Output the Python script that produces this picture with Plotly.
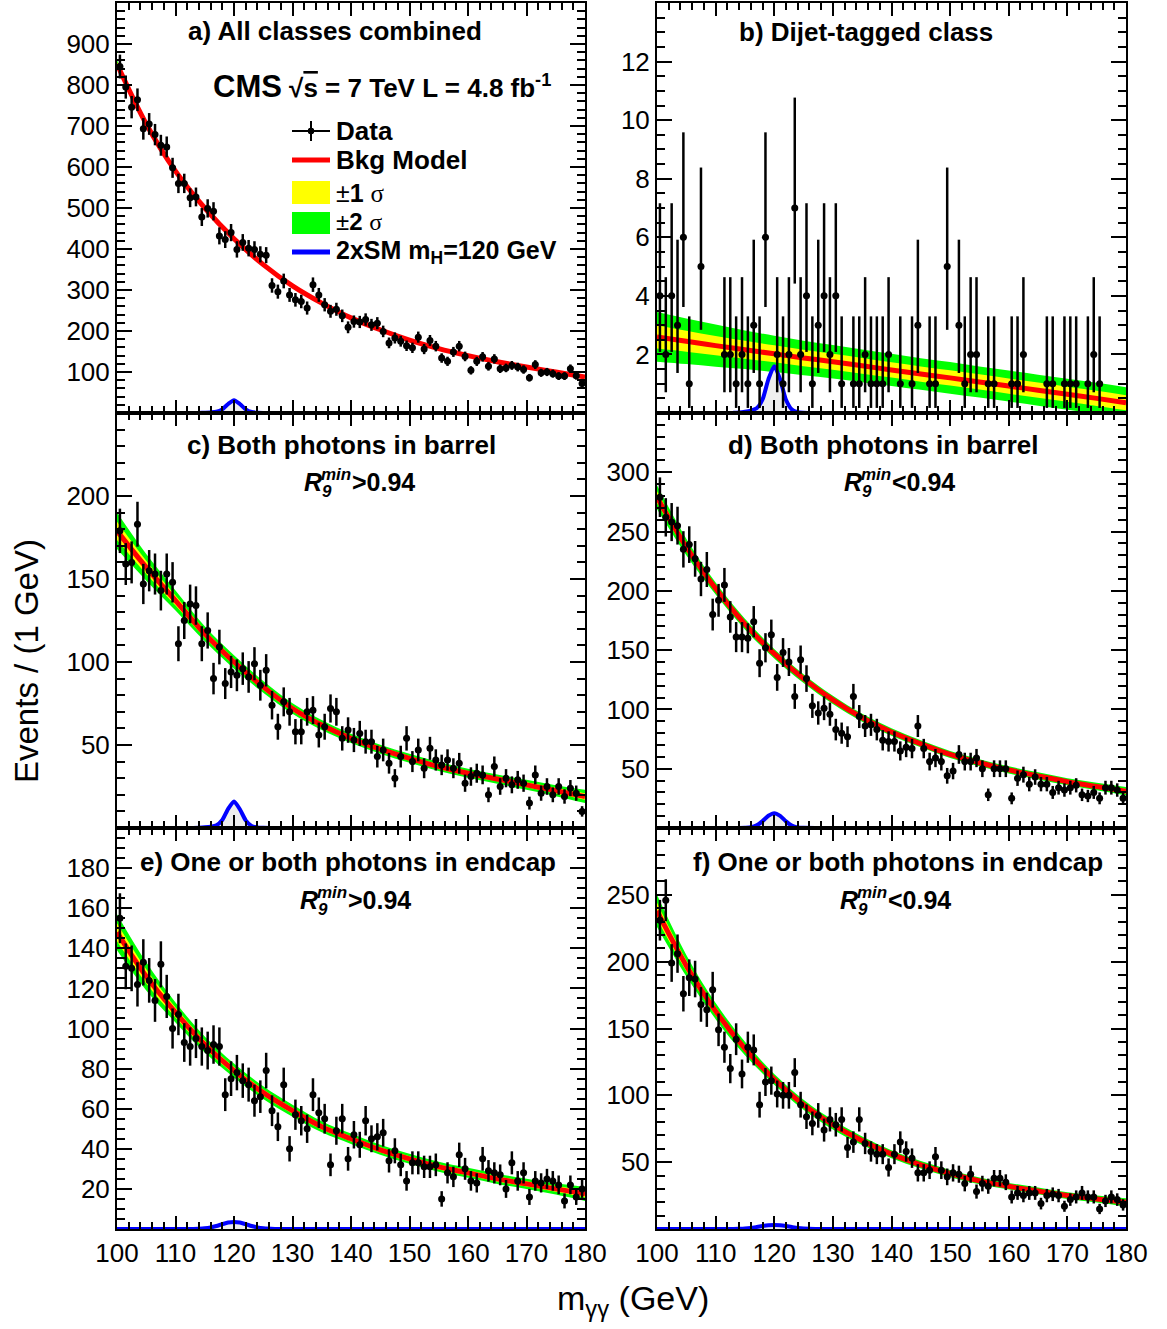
import numpy as np
import plotly.graph_objects as go

W, H = 1167, 1329
FONT = "Liberation Sans, Arial, Helvetica, sans-serif"

# ---------------- data ----------------
bin_centers = np.arange(100.5, 180.0, 1.0)
model_mass = [100, 105, 110, 115, 120, 125, 130, 135, 140, 145, 150, 155, 160, 165, 170, 175, 180]
signal_mass = [100, 113, 114, 115, 116, 117, 118, 119, 120, 121, 122, 123, 124, 125, 127, 180]

counts_a = [845, 795, 746, 764, 693, 705, 679, 653, 649, 598,
            560, 560, 525, 527, 478, 499, 492, 432, 423, 440,
            399, 416, 402, 399, 387, 385, 311, 296, 322, 288,
            276, 272, 256, 313, 288, 264, 248, 253, 237, 209,
            223, 222, 228, 215, 219, 199, 171, 183, 175, 164,
            159, 185, 156, 177, 163, 134, 126, 149, 163, 138,
            104, 126, 137, 114, 132, 108, 110, 116, 112, 106,
            86, 118, 98, 100, 96, 90, 90, 108, 91, 72]
counts_b = [4, 2, 4, 3, 6, 1, 0, 5, 0, 0,
            0, 2, 2, 1, 2, 1, 3, 1, 6, 0,
            2, 1, 2, 7, 2, 4, 1, 3, 4, 2,
            4, 1, 0, 1, 1, 2, 1, 1, 1, 2,
            0, 1, 0, 1, 3, 0, 1, 1, 0, 5,
            0, 3, 1, 2, 2, 0, 1, 1, 0, 0,
            1, 1, 2, 0, 0, 0, 1, 1, 0, 1,
            1, 1, 0, 1, 2, 1, 0, 0, 0, 0]
counts_c = [179, 159, 160, 183, 147, 155, 153, 143, 153, 148,
            111, 125, 135, 134, 111, 119, 90, 109, 87, 94,
            92, 96, 91, 99, 86, 95, 74, 61, 76, 70,
            58, 58, 70, 71, 56, 61, 72, 70, 54, 59,
            53, 57, 52, 52, 43, 47, 39, 30, 43, 54,
            40, 47, 36, 48, 41, 38, 41, 36, 39, 27,
            31, 33, 32, 20, 37, 25, 30, 26, 29, 27,
            15, 32, 21, 25, 20, 25, 19, 24, 21, 10]
counts_d = [279, 262, 258, 255, 235, 239, 227, 210, 218, 180,
            192, 205, 178, 161, 161, 160, 174, 139, 152, 163,
            127, 148, 140, 111, 142, 126, 103, 97, 101, 96,
            83, 80, 77, 111, 94, 86, 87, 83, 74, 73,
            73, 65, 68, 67, 86, 67, 56, 59, 56, 44,
            48, 62, 56, 56, 59, 50, 28, 50, 50, 50,
            25, 42, 45, 37, 43, 37, 37, 30, 34, 32,
            34, 36, 28, 27, 30, 25, 34, 34, 32, 25]
counts_e = [155, 131, 130, 122, 133, 124, 114, 132, 116, 100,
            107, 93, 91, 95, 91, 89, 92, 91, 67, 75,
            78, 74, 72, 64, 66, 79, 59, 51, 72, 40,
            57, 54, 50, 67, 58, 55, 32, 49, 55, 35,
            47, 42, 54, 45, 46, 48, 34, 39, 32, 24,
            33, 33, 31, 31, 32, 15, 28, 26, 37, 30,
            24, 23, 35, 29, 28, 27, 20, 33, 24, 28,
            16, 24, 23, 25, 24, 22, 14, 22, 16, 20]
counts_f = [231, 246, 199, 206, 176, 188, 187, 168, 164, 179,
            149, 136, 120, 142, 116, 136, 134, 93, 110, 111,
            101, 100, 100, 117, 93, 84, 79, 85, 74, 82,
            78, 82, 61, 65, 82, 64, 58, 56, 56, 46,
            56, 65, 58, 53, 42, 42, 44, 54, 44, 39,
            42, 41, 34, 41, 28, 34, 32, 38, 38, 35,
            24, 27, 25, 27, 27, 19, 25, 26, 25, 17,
            22, 24, 27, 24, 24, 15, 21, 24, 22, 18]

# background model (sampled every 5 GeV)
bkg_a = [851, 705, 590, 500, 425, 362, 310, 268, 232, 203, 178, 157, 140, 125, 112, 100, 88]
bkg_b = [2.6, 2.45, 2.3, 2.16, 2.02, 1.88, 1.75, 1.61, 1.47, 1.33, 1.2, 1.06, 0.92, 0.78, 0.64, 0.5, 0.35]
bkg_c = [179, 157, 137, 117, 100, 85, 72, 62, 54, 47.5, 42, 37, 33, 29.5, 26, 22.5, 19]
bkg_d = [279, 237, 202, 172, 147, 126, 108, 93, 81, 71, 62, 55, 49, 44, 39, 35, 31]
bkg_e = [148, 126, 108, 92, 79, 68, 59, 51, 45, 39.5, 35, 31, 28, 25, 22.5, 20, 17.5]
bkg_f = [238, 197, 163, 135, 112, 93, 78, 66, 56, 48, 41.5, 36, 32, 28.5, 25, 22.5, 20]

# +-1 sigma and +-2 sigma half widths
sig1_a = [5, 3, 2.5, 2, 2, 2, 1.5, 1.5, 1.5, 1.5, 1.5, 1.5, 1.5, 1.5, 1.5, 1.5, 2]
sig2_a = [10, 6, 5, 4, 4, 4, 3, 3, 3, 3, 3, 3, 3, 3, 3, 3, 4]
sig1_b = [0.40, 0.36, 0.33, 0.31, 0.29, 0.28, 0.27, 0.27, 0.26, 0.26, 0.26, 0.26, 0.26, 0.26, 0.26, 0.26, 0.26]
sig2_b = [0.85, 0.78, 0.72, 0.66, 0.62, 0.59, 0.57, 0.56, 0.55, 0.54, 0.54, 0.53, 0.53, 0.53, 0.53, 0.53, 0.53]
sig1_c = [5.5, 4, 3, 2.3, 2, 1.8, 1.6, 1.5, 1.4, 1.4, 1.4, 1.4, 1.4, 1.4, 1.5, 1.7, 2]
sig2_c = [11, 8, 6, 4.5, 4, 3.5, 3.2, 3, 2.8, 2.7, 2.7, 2.7, 2.7, 2.8, 3, 3.3, 4]
sig1_d = [5, 3.5, 2.5, 2.3, 2, 1.9, 1.8, 1.7, 1.6, 1.5, 1.5, 1.5, 1.5, 1.5, 1.5, 1.6, 1.8]
sig2_d = [10, 7, 5, 4.5, 4, 3.7, 3.5, 3.3, 3.2, 3, 3, 3, 3, 3, 3, 3.2, 3.5]
sig1_e = [4.5, 3.5, 2.5, 2, 1.8, 1.6, 1.5, 1.4, 1.3, 1.3, 1.3, 1.3, 1.3, 1.3, 1.3, 1.4, 1.8]
sig2_e = [9, 7, 5, 4, 3.5, 3.2, 3, 2.8, 2.6, 2.5, 2.5, 2.5, 2.5, 2.5, 2.6, 2.8, 3.5]
sig1_f = [6, 4, 3, 2.5, 2, 1.9, 1.8, 1.6, 1.5, 1.4, 1.4, 1.3, 1.3, 1.3, 1.3, 1.3, 1.5]
sig2_f = [12, 8, 6, 5, 4, 3.7, 3.5, 3.2, 3, 2.8, 2.7, 2.6, 2.5, 2.5, 2.5, 2.6, 3]

# 2xSM signal, mH = 120 GeV
signal_a = [0, 0.1, 0.3, 0.8, 1.5, 3, 9, 22, 31, 22, 9, 2.5, 0.6, 0.2, 0, 0]
signal_b = [0, 0.005, 0.015, 0.04, 0.08, 0.16, 0.46, 1.15, 1.6, 1.15, 0.45, 0.12, 0.03, 0.01, 0, 0]
signal_c = [0, 0.05, 0.15, 0.4, 0.8, 1.6, 4.8, 11.5, 16, 11.3, 4.6, 1.2, 0.3, 0.1, 0, 0]
signal_d = [0, 0.05, 0.1, 0.25, 0.6, 2.2, 5.8, 10.3, 12.5, 10.2, 5.6, 2, 0.5, 0.12, 0, 0]
signal_e = [0, 0.05, 0.12, 0.33, 0.77, 1.5, 2.4, 3.2, 3.5, 3.2, 2.4, 1.5, 0.77, 0.33, 0.04, 0]
signal_f = [0, 0.06, 0.17, 0.4, 0.84, 1.5, 2.2, 2.76, 3.0, 2.76, 2.2, 1.5, 0.84, 0.4, 0.06, 0]

# Garwood 68% Poisson intervals (indexed by count) for the dijet class
garwood_down = [0, 0.827, 1.292, 1.633, 1.914, 2.160, 2.380, 2.581]
garwood_up = [1.841, 2.300, 2.638, 2.918, 3.163, 3.382, 3.584, 3.770]

x_ticks = [100, 110, 120, 130, 140, 150, 160, 170, 180]
yticks_a = [100, 200, 300, 400, 500, 600, 700, 800, 900]
yticks_b = [2, 4, 6, 8, 10, 12]
yticks_c = [50, 100, 150, 200]
yticks_d = [50, 100, 150, 200, 250, 300]
yticks_e = [20, 40, 60, 80, 100, 120, 140, 160, 180]
yticks_f = [50, 100, 150, 200, 250]

# ---------------- geometry helpers ----------------
def px(xp):
    return xp / W

def py(yp):
    return 1 - yp / H

LEFT = (117, 585)
RIGHT = (657, 1126)
ROWS = [(3, 413), (413, 828), (828, 1229)]

panels = [
    dict(key='a', col=LEFT, row=ROWS[0], counts=counts_a, bkg=bkg_a, s1=sig1_a, s2=sig2_a, sig=signal_a,
         yr=[0, 1000], yt=yticks_a, ymin=20),
    dict(key='b', col=RIGHT, row=ROWS[0], counts=counts_b, bkg=bkg_b, s1=sig1_b, s2=sig2_b, sig=signal_b,
         yr=[0, 14], yt=yticks_b, ymin=0.5),
    dict(key='c', col=LEFT, row=ROWS[1], counts=counts_c, bkg=bkg_c, s1=sig1_c, s2=sig2_c, sig=signal_c,
         yr=[0, 250], yt=yticks_c, ymin=10),
    dict(key='d', col=RIGHT, row=ROWS[1], counts=counts_d, bkg=bkg_d, s1=sig1_d, s2=sig2_d, sig=signal_d,
         yr=[0, 350], yt=yticks_d, ymin=10),
    dict(key='e', col=LEFT, row=ROWS[2], counts=counts_e, bkg=bkg_e, s1=sig1_e, s2=sig2_e, sig=signal_e,
         yr=[0, 200], yt=yticks_e, ymin=5),
    dict(key='f', col=RIGHT, row=ROWS[2], counts=counts_f, bkg=bkg_f, s1=sig1_f, s2=sig2_f, sig=signal_f,
         yr=[0, 300], yt=yticks_f, ymin=10),
]

fig = go.Figure()
layout = dict(width=W, height=H, margin=dict(l=0, r=0, t=0, b=0, autoexpand=False),
              paper_bgcolor='white', plot_bgcolor='white', showlegend=False,
              font=dict(family=FONT, color='black'))

for k, p in enumerate(panels, start=1):
    sfx = '' if k == 1 else str(k)
    xa, ya = 'x' + sfx, 'y' + sfx
    bkg = np.array(p['bkg'], float)
    s1 = np.array(p['s1'], float)
    s2 = np.array(p['s2'], float)

    for lo, hi, col in [(bkg - s2, bkg + s2, '#00ff00'), (bkg - s1, bkg + s1, '#ffff00')]:
        fig.add_trace(go.Scatter(x=model_mass, y=lo, xaxis=xa, yaxis=ya, mode='lines',
                                 line=dict(width=0, shape='spline', color=col), hoverinfo='skip'))
        fig.add_trace(go.Scatter(x=model_mass, y=hi, xaxis=xa, yaxis=ya, mode='lines', fill='tonexty',
                                 fillcolor=col, line=dict(width=0, shape='spline', color=col),
                                 hoverinfo='skip'))
    fig.add_trace(go.Scatter(x=model_mass, y=bkg, xaxis=xa, yaxis=ya, mode='lines',
                             line=dict(width=5, shape='spline', color='#ff0000')))
    fig.add_trace(go.Scatter(x=signal_mass, y=p['sig'], xaxis=xa, yaxis=ya, mode='lines', fill='tozeroy',
                             fillcolor='rgb(238,238,238)',
                             line=dict(width=4, shape='spline', smoothing=0.6, color='#0000ff')))

    cnt = np.array(p['counts'])
    mask = cnt > 0
    xs = bin_centers[mask]
    ys = cnt[mask]
    if p['key'] == 'b':
        e_up = [garwood_up[n] for n in ys]
        e_dn = [garwood_down[n] for n in ys]
    else:
        e_up = np.sqrt(ys)
        e_dn = np.sqrt(ys)
    fig.add_trace(go.Scatter(x=xs, y=ys, xaxis=xa, yaxis=ya, mode='markers',
                             marker=dict(color='black', size=7),
                             error_y=dict(type='data', array=e_up, arrayminus=e_dn, symmetric=False,
                                          color='black', thickness=2.5, width=0),
                             error_x=dict(type='constant', value=0.5, color='black', thickness=2.5, width=0)))

    bottom = p['row'] is ROWS[2]
    common = dict(showline=True, linecolor='black', linewidth=2, mirror='allticks', ticks='inside',
                  tickcolor='black', tickwidth=2, showgrid=False, zeroline=False, automargin=False,
                  tickfont=dict(size=26, family=FONT, color='black'))
    layout['xaxis' + sfx] = dict(domain=[px(p['col'][0]), px(p['col'][1])], range=[100, 180],
                                 anchor=ya, tickmode='array', tickvals=x_ticks, ticklen=13,
                                 showticklabels=bottom,
                                 minor=dict(ticks='inside', tickmode='linear', tick0=100, dtick=2,
                                            ticklen=7, tickwidth=1.5, tickcolor='black'),
                                 **common)
    layout['yaxis' + sfx] = dict(domain=[py(p['row'][1]), py(p['row'][0])], range=p['yr'],
                                 anchor=xa, tickmode='array', tickvals=p['yt'], ticklen=15,
                                 minor=dict(ticks='inside', tickmode='linear', tick0=0, dtick=p['ymin'],
                                            ticklen=8, tickwidth=1.5, tickcolor='black'),
                                 **common)

fig.update_layout(**layout)

# ---------------- text ----------------
ann = []
SERIF = "Liberation Serif, Times New Roman, serif"

def text(xp, yp, s, size, xanchor='center', yanchor='middle', angle=0):
    ann.append(dict(x=px(xp), y=py(yp), xref='paper', yref='paper', text=s, showarrow=False,
                    xanchor=xanchor, yanchor=yanchor, textangle=angle,
                    font=dict(size=size, family=FONT, color='black')))

text(335, 31, '<b>a) All classes combined</b>', 26)
text(866, 32, '<b>b) Dijet-tagged class</b>', 26)
text(341, 445, '<b>c) Both photons in barrel</b>', 26)
text(883, 445, '<b>d) Both photons in barrel</b>', 26)
text(348, 862, '<b>e) One or both photons in endcap</b>', 26)
text(898, 862, '<b>f) One or both photons in endcap</b>', 26)

for (rx, ry, cut) in [(302, 482, '&gt;0.94'), (842, 482, '&lt;0.94'),
                      (298, 900, '&gt;0.94'), (838, 900, '&lt;0.94')]:
    text(rx, ry, '<b><i>R</i></b>', 25, xanchor='left')
    text(rx + 17, ry - 8, '<b><i>min</i></b>', 17, xanchor='left')
    text(rx + 18, ry + 9, '<b><i>9</i></b>', 17, xanchor='left')
    text(rx + 48, ry, '<b>' + cut + '</b>', 25, xanchor='left')

text(211, 86, "<b><span style='font-size:31px'>CMS</span> √<span style='text-decoration:overline'>s</span>"
              " = 7 TeV L = 4.8 fb<sup>-1</sup></b>", 26, xanchor='left')

# legend
sig_span = "<span style='font-family:" + SERIF + "'>σ</span>"
text(334, 131, '<b>Data</b>', 26, xanchor='left')
text(334, 160, '<b>Bkg Model</b>', 26, xanchor='left')
text(334, 193, '±<b>1</b> ' + sig_span, 25, xanchor='left')
text(334, 222, '±<b>2</b> ' + sig_span, 24, xanchor='left')
text(334, 252, '<b>2xSM m<sub>H</sub>=120 GeV</b>', 25, xanchor='left')

text(27, 661, 'Events / (1 GeV)', 33, angle=-90)
text(633, 1300, 'm<sub>γγ</sub> (GeV)', 34)

shapes = []

def pline(x0, y0, x1, y1, color, width):
    shapes.append(dict(type='line', xref='paper', yref='paper', x0=px(x0), y0=py(y0), x1=px(x1), y1=py(y1),
                       line=dict(color=color, width=width)))

def prect(x0, y0, x1, y1, color):
    shapes.append(dict(type='rect', xref='paper', yref='paper', x0=px(x0), y0=py(y0), x1=px(x1), y1=py(y1),
                       fillcolor=color, line=dict(width=0)))

pline(292, 131, 330, 131, 'black', 2)
pline(311, 121, 311, 141, 'black', 2)
shapes.append(dict(type='circle', xref='paper', yref='paper', x0=px(308), y0=py(128), x1=px(314), y1=py(134),
                   fillcolor='black', line=dict(color='black', width=1)))
pline(292, 160, 330, 160, 'red', 5)
prect(292, 181, 330, 204, '#ffff00')
prect(292, 212, 330, 234, '#00ff00')
pline(292, 252, 330, 252, '#0000ff', 5)

fig.update_layout(annotations=ann, shapes=shapes)
fig.write_html("out.html", config={'displayModeBar': False},
               post_script="document.body.style.margin='0';")
